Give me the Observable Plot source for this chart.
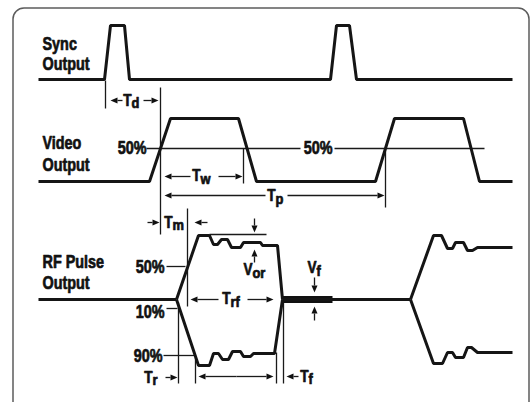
<!DOCTYPE html>
<html>
<head>
<meta charset="utf-8">
<script src="https://cdn.jsdelivr.net/npm/d3@7"></script>
<script src="https://cdn.jsdelivr.net/npm/@observablehq/plot@0.6"></script>
<style>
  html, body { margin: 0; padding: 0; background: #fff; }
  #chart svg { display: block; }
</style>
</head>
<body>
<div id="chart"></div>
<script>
// ---- Waveform data (diagram units: x = time position, y = level position) ----
const syncX  = [38, 104, 110, 124, 129, 330, 336, 349, 356, 512];
const syncY  = [79, 79, 25, 25, 79, 79, 25, 25, 79, 79];

const videoX = [38, 149, 170, 238, 256, 375, 394, 463, 479, 512];
const videoY = [181, 181, 118, 118, 181, 181, 118, 118, 181, 181];

const rfBaseX = [38, 176];
const rfBaseY = [299, 299];

const rfUpper1X = [176, 198, 209, 213, 217, 221, 227, 231, 240, 243, 260, 262, 277, 282];
const rfUpper1Y = [299, 235, 235, 244, 244, 239, 239, 247, 247, 242, 242, 245, 245, 299];
const rfLower1X = [176, 198, 209, 213, 218, 222, 228, 232, 240, 243, 250, 253, 274, 282];
const rfLower1Y = [299, 365, 365, 353, 353, 359, 359, 351, 351, 356, 356, 353, 353, 299];

const rfOffX = [282, 410];
const rfOffY = [299, 299];

const rfUpper2X = [410, 433, 441, 447, 452, 455, 463, 467, 472, 477, 512];
const rfUpper2Y = [299, 235, 235, 248, 248, 242, 242, 250, 250, 247, 247];
const rfLower2X = [410, 433, 442, 447, 452, 455, 463, 467, 471, 477, 512];
const rfLower2Y = [299, 363, 363, 352, 352, 357, 357, 347, 347, 352, 352];

const feedthroughX = [282, 332];
const feedthroughY = [299, 299];

// ---- Reference lines [x1, y1, x2, y2] ----
const refLines = [
  [105, 80, 105, 108],   // Td start
  [160, 87, 160, 234],   // Video 50% / Td end / Tm start
  [243, 148, 243, 183],  // Tw end
  [385, 148, 385, 207],  // Tp end
  [187, 208, 187, 306],  // Tm end / Trf start
  [178, 302, 178, 383],  // Tr start
  [195, 355, 195, 383],  // Tr end
  [276, 352, 276, 383],  // fall start
  [283, 299, 283, 383],  // Tf end
  [146, 148, 300, 148],  // video 50% level (left part)
  [334, 148, 484, 148],  // video 50% level (right part)
  [209, 234, 266, 234],  // Vor top reference
  [166, 266, 185, 266],  // RF 50%
  [166, 308, 177, 308],  // RF 10%
  [163, 355, 194, 355]   // RF 90%
];

// ---- Arrows [tailX, tailY, tipX, tipY] ----
const arrows = [
  [122, 100, 110, 100], [143, 100, 158, 100],   // Td
  [190, 176, 164, 176], [218, 176, 242, 176],   // Tw
  [265, 195, 164, 195], [287, 195, 384, 195],   // Tp
  [147, 222, 159, 222], [207, 222, 194, 222],   // Tm
  [218, 299, 190, 299], [247, 299, 273, 299],   // Trf
  [236, 376, 198, 376], [236, 376, 273, 376],   // fall-to-fall span
  [165, 377, 177, 377],                          // Tr
  [298, 376, 286, 376],                          // Tf
  [254, 218, 254, 232], [254, 262, 254, 249],   // Vor
  [314, 277, 314, 292], [314, 320, 314, 306]    // Vf
];

// ---- Text ----
const titleText = ["Sync", "Output", "Video", "Output", "RF Pulse", "Output"];
const titleX    = [42, 42, 42, 42, 42, 42];
const titleY    = [44, 64, 143, 165, 262, 283];

// percentage labels, right-aligned at x
const pctText   = ["50%", "50%", "50%", "10%", "90%"];
const pctX      = [146, 332, 164, 164, 162];
const pctY      = [148, 148, 267, 312, 356];

const symText = ["T", "T", "T", "T", "T", "T", "T", "V", "V"];
const symX    = [131, 200, 275, 172, 230, 152, 308, 252, 316];
const symY    = [100, 175, 195, 222, 298, 377, 376, 269, 267];
const subText = ["d", "w", "p", "m", "rf", "r", "f", "or", "f"];
const subX    = [131, 200, 275, 172, 230, 152, 308, 252, 316];
const subY    = [103, 179, 199, 225, 302, 380, 379, 273, 271];

// ---- Build tables ----
const pts = (id, xs, ys) => xs.map((x, i) => ({id, x, y: ys[i]}));
const waves = [
  ...pts("sync", syncX, syncY),
  ...pts("video", videoX, videoY),
  ...pts("rfBase", rfBaseX, rfBaseY),
  ...pts("rfU1", rfUpper1X, rfUpper1Y),
  ...pts("rfL1", rfLower1X, rfLower1Y),
  ...pts("rfOff", rfOffX, rfOffY),
  ...pts("rfU2", rfUpper2X, rfUpper2Y),
  ...pts("rfL2", rfLower2X, rfLower2Y)
];
const bar = [{x1: feedthroughX[0], y1: feedthroughY[0], x2: feedthroughX[1], y2: feedthroughY[1]}];
const lines = refLines.map(([x1, y1, x2, y2]) => ({x1, y1, x2, y2}));

const HL = 7, HW = 3;
const shafts = [], heads = [];
arrows.forEach(([tx, ty, px, py], i) => {
  const dx = px - tx, dy = py - ty, len = Math.hypot(dx, dy);
  const ux = dx / len, uy = dy / len, nx = -uy, ny = ux;
  const bx = px - HL * ux, by = py - HL * uy;
  shafts.push({x1: tx, y1: ty, x2: bx, y2: by});
  heads.push({id: i, x: px, y: py});
  heads.push({id: i, x: bx + HW * nx, y: by + HW * ny});
  heads.push({id: i, x: bx - HW * nx, y: by - HW * ny});
});

const titles = titleText.map((t, i) => ({t, x: titleX[i], y: titleY[i]}));
const pcts = pctText.map((t, i) => ({t, x: pctX[i], y: pctY[i]}));
const syms = symText.map((t, i) => ({t, x: symX[i], y: symY[i]}));
const subs = subText.map((t, i) => ({t, x: subX[i], y: subY[i]}));

const font = "'Liberation Sans', Arial, sans-serif";
const ink = "#111";
const txt = {x: "x", y: "y", text: "t", fontFamily: font, fontWeight: "bold", fill: ink, stroke: ink, strokeWidth: 0.7};

const chart = Plot.plot({
  width: 532,
  height: 402,
  margin: 0,
  style: {background: "#fff", overflow: "hidden"},
  x: {domain: [0, 532], range: [0, 532], axis: null},
  y: {domain: [0, 402], range: [0, 402], axis: null},
  marks: [
    Plot.rect([{x1: 13, x2: 529, y1: 8, y2: 430}], {x1: "x1", x2: "x2", y1: "y1", y2: "y2", rx: 11, fill: "none", stroke: "#5c5c5c", strokeWidth: 1.5}),
    Plot.link(lines, {x1: "x1", y1: "y1", x2: "x2", y2: "y2", stroke: "#1a1a1a", strokeWidth: 1.3}),
    Plot.link(shafts, {x1: "x1", y1: "y1", x2: "x2", y2: "y2", stroke: "#1a1a1a", strokeWidth: 1.3}),
    Plot.line(heads, {x: "x", y: "y", z: "id", fill: "#111", stroke: "none"}),
    Plot.link(bar, {x1: "x1", y1: "y1", x2: "x2", y2: "y2", stroke: "#111", strokeWidth: 7}),
    Plot.line(waves, {x: "x", y: "y", z: "id", stroke: "#151515", strokeWidth: 3, strokeLinejoin: "miter", strokeLinecap: "butt"}),
    Plot.text(titles, {...txt, textAnchor: "start", fontSize: 18}),
    Plot.text(pcts, {...txt, textAnchor: "end", fontSize: 18}),
    Plot.text(syms, {...txt, textAnchor: "end", fontSize: 16}),
    Plot.text(subs, {...txt, textAnchor: "start", fontSize: 14})
  ]
});

// Condense the lettering horizontally (the original uses a condensed bold face)
const squeeze = [0.8, 0.8, 0.85, 0.92];
chart.querySelectorAll("g[aria-label='text']").forEach((g, gi) => {
  const s = squeeze[gi] ?? 0.85;
  g.querySelectorAll("text").forEach((t) => {
    const tr = t.getAttribute("transform");
    if (tr) {
      t.setAttribute("transform", `${tr} scale(${s},1)`);
    } else {
      const x = t.getAttribute("x") || 0, y = t.getAttribute("y") || 0;
      t.removeAttribute("x"); t.removeAttribute("y");
      t.setAttribute("transform", `translate(${x},${y}) scale(${s},1)`);
    }
  });
});
document.getElementById("chart").appendChild(chart);
</script>
</body>
</html>
